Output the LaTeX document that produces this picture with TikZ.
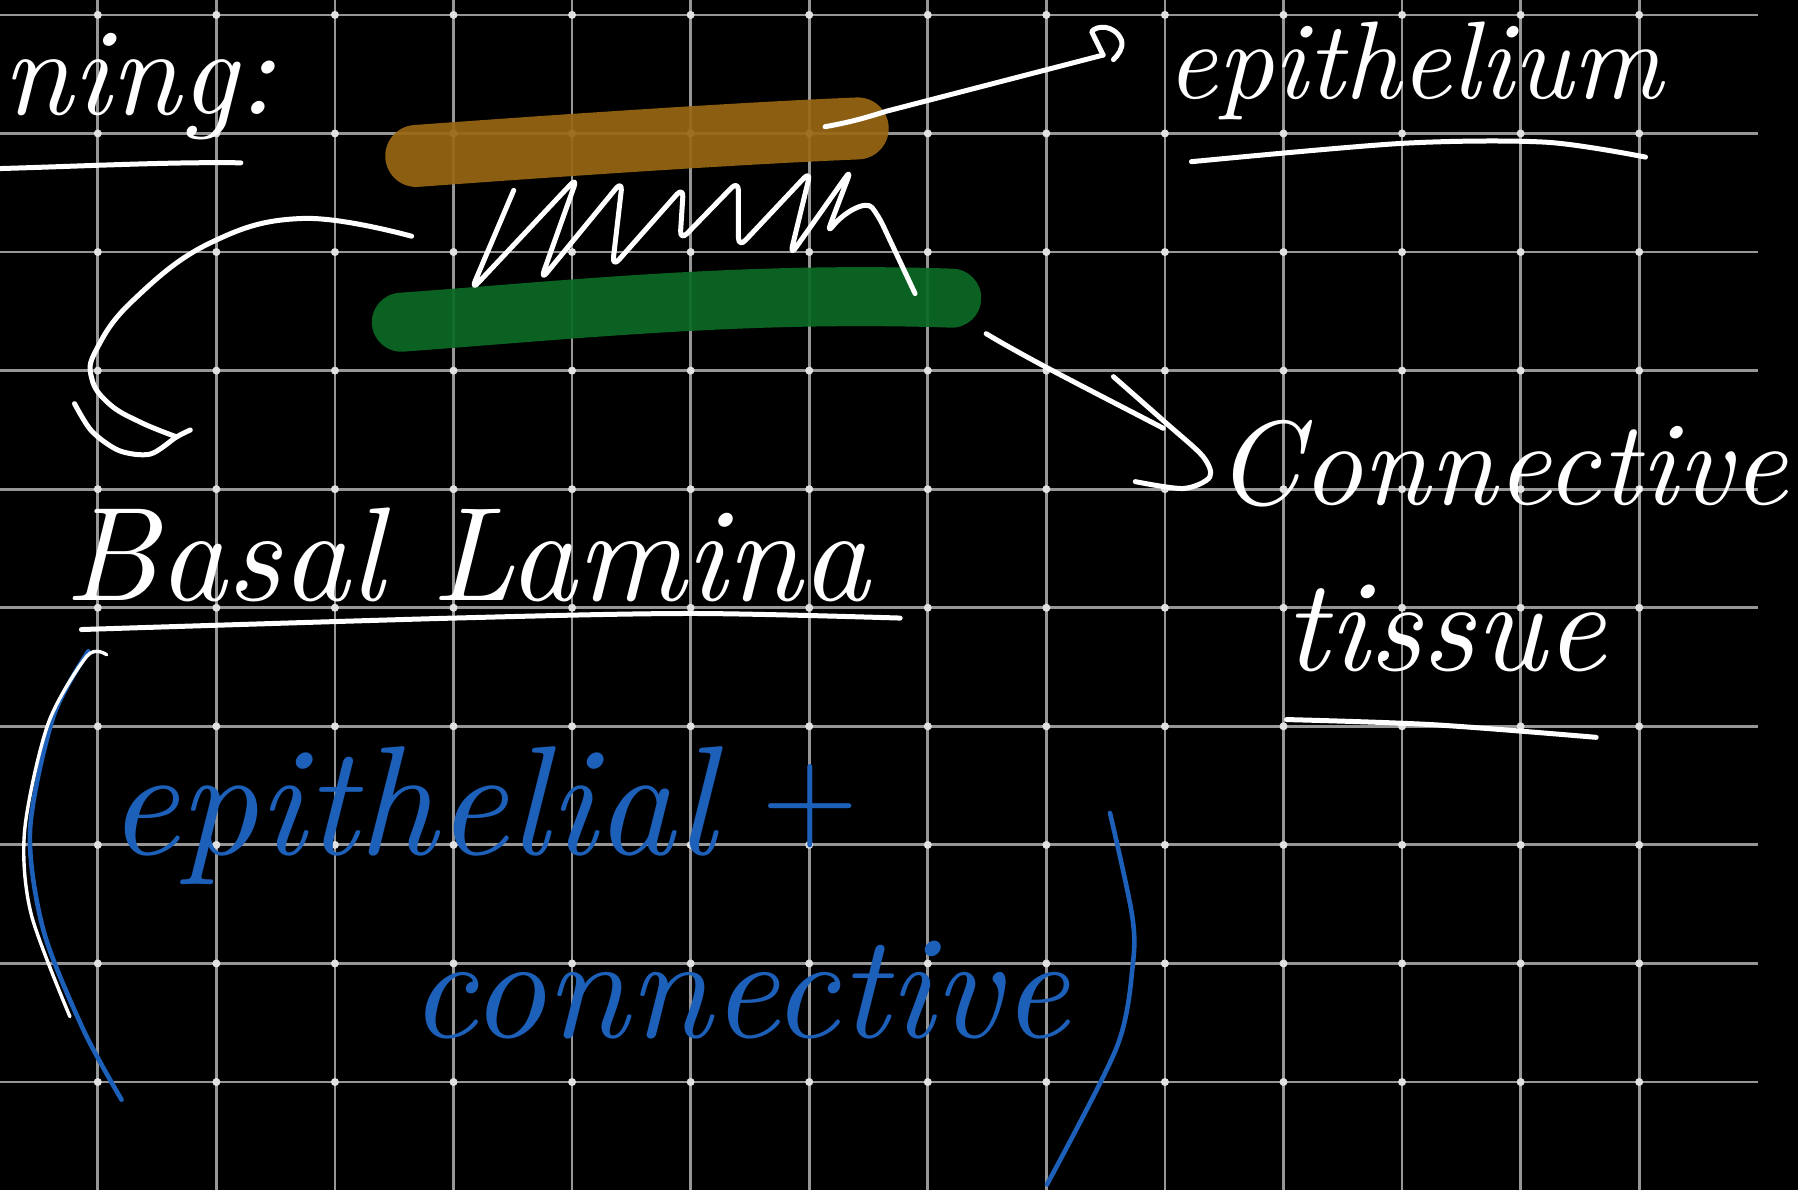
\documentclass[tikz,border=0pt]{standalone}
\usepackage{fontspec}
\usepackage{graphicx}
\definecolor{epibrown}{RGB}{152,103,20}
\definecolor{ctgreen}{RGB}{11,106,36}
\definecolor{inkblue}{RGB}{28,96,186}
\definecolor{gridgray}{RGB}{150,150,150}
\definecolor{dotgray}{RGB}{225,225,225}
\newlength\U \setlength\U{0.5734pt}
\newcommand\hw[2]{\resizebox{#1\U}{!}{\itshape #2}}
\begin{document}
\begin{tikzpicture}[x=0.5734pt, y=-0.5734pt,
  ink/.style={draw=white, line width=2.5pt, line cap=round, line join=round},
  blueink/.style={draw=inkblue, line width=2.3pt, line cap=round, line join=round},
  gridline/.style={draw=gridgray, line width=1.4pt},
  griddot/.style={fill=dotgray},
  wtext/.style={text=white, inner sep=0pt},
  btext/.style={text=inkblue, inner sep=0pt},
  bar/.style={line cap=round, opacity=0.92}]
\fill[black] (0,0) rectangle (1568,1038);
\useasboundingbox (0,0) rectangle (1568,1038);
% grid
\foreach \i in {0,...,13} \draw[gridline] ({85.3+103.4*\i},0) -- ({85.3+103.4*\i},1038);
\foreach \j in {0,...,9} \draw[gridline] (0,{13+103.4*\j}) -- (1533,{13+103.4*\j});
\foreach \i in {0,...,13} \foreach \j in {0,...,9}
  \fill[griddot] ({85.3+103.4*\i},{13+103.4*\j}) circle[radius=3.5];
% bars
\draw[bar, draw=epibrown, line width=31pt] (363,136) .. controls (500,126) and (650,116) .. (748,112);
\draw[bar, draw=ctgreen, line width=29.5pt] (350,281) .. controls (500,270) and (650,254) .. (830,260);
% coordinates
\coordinate (brownR) at (719.5,110.5);
\coordinate (epiTip) at (962,48);
\coordinate (greenR) at (860,291);
\coordinate (connTip) at (1014.5,373.5);
\coordinate (zigL) at (359,206);
\coordinate (basalTip) at (154,381);
% texts
\node[wtext, anchor=base west] (ning) at (2,100) {\hw{238}{ning:}};
\node[wtext, anchor=base west] (epi) at (1017,86) {\hw{433}{epithelium}};
\node[wtext, anchor=base west] (basal) at (56,524) {\hw{702}{Basal Lamina}};
\node[wtext, anchor=base west] (conn) at (1060,440) {\hw{498}{Connective}};
\node[wtext, anchor=base west] (tissue) at (1120,585) {\hw{280}{tissue}};
\node[btext, anchor=base west] (bepi) at (93,745) {\hw{530}{epithelial}};
\node[btext] (plus) at (707,703) {\resizebox{85\U}{!}{+}};
\node[btext, anchor=base west] (bconn) at (357,905) {\hw{575}{connective}};
% underlines
\draw[ink] (0,147) .. controls (70,145) and (150,141) .. (210,142);
\draw[ink] plot[smooth] coordinates {(1039,141) (1223,125) (1348,124) (1435,137)};
\draw[ink] plot[smooth] coordinates {(71,549) (396,539) (603,535) (785,539)};
\draw[ink] plot[smooth] coordinates {(1122,627.5) (1250,632) (1392,643)};
% zigzag
\draw[ink, rounded corners=5pt] (448,166) -- (411,253) -- (503.5,154.6) -- (471.5,244.4) -- (542.8,157.5) -- (534,233) -- (596,163) -- (593,210) -- (644,157.5) -- (644,216) -- (707,149) -- (689,223) -- (742.5,147.4) -- (721,204) .. controls (735,186) and (755,174) .. (766,188) -- (798,256);
% arrow to epithelium
\draw[ink] (brownR) .. controls (745,106) and (760,101) .. (773,97) -- (epiTip);
\draw[ink] (epiTip) -- (952,27.6) .. controls (956,22) and (972,21) .. (978,35) .. controls (980,42) and (975,48) .. (971,52);
% arrow to basal lamina
\draw[ink] plot[smooth, tension=0.7] coordinates {(zigL) (264.5,190.5) (183,212) (116,262) (84,305) (80,330) (95,352) (122,368) (basalTip)};
\draw[ink] plot[smooth] coordinates {(166,375) (basalTip) (131,396) (104,393) (80,376) (65,352)};
% arrow to connective tissue
\draw[ink] (greenR) .. controls (900,315) and (960,345) .. (connTip);
\draw[ink] plot[smooth] coordinates {(971,328.5) (1017,369) (1049,398) (1055,416) (1032,426) (990,420)};
% parentheses
\draw[blueink] plot[smooth] coordinates {(77,568) (46.5,625) (26.2,724) (37.8,811) (72.7,898) (106,959)};
\draw[ink, line width=1.7pt] plot[smooth] coordinates {(93,571) (76,572) (42,631) (21.5,724) (27,796.5) (61,886.6)};
\draw[blueink] plot[smooth] coordinates {(968,709) (987,796.5) (988,840) (974,913) (913,1033)};
\end{tikzpicture}
\end{document}
